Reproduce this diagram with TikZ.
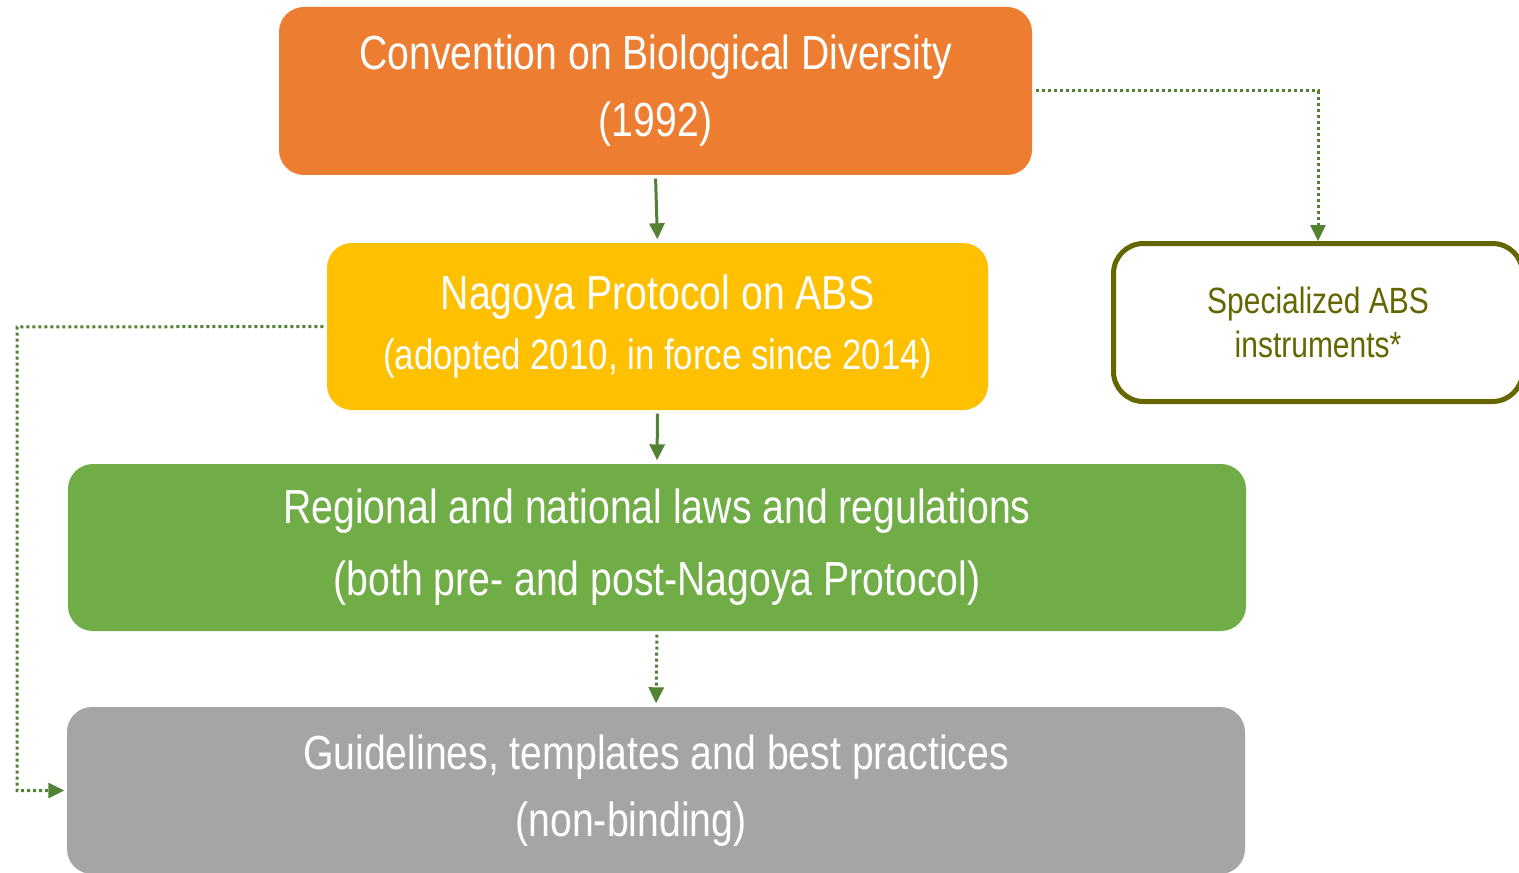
\documentclass[tikz,border=0pt]{standalone}
\usepackage{fontspec}
\setmainfont{Liberation Sans}[FakeStretch=0.82]
\usetikzlibrary{positioning}
\usetikzlibrary{arrows.meta}

\definecolor{cbdorange}{HTML}{ED7D31}
\definecolor{npyellow}{HTML}{FFC000}
\definecolor{lawgreen}{HTML}{70AD47}
\definecolor{guidegray}{HTML}{A5A5A5}
\definecolor{arrowgreen}{HTML}{548235}
\definecolor{specolive}{HTML}{666600}

\tikzset{
    level/.style={rounded corners=0.25cm, text=white, align=center, inner sep=0pt,
        font=\fontsize{13.6}{19}\selectfont},
    specbox/.style={draw=specolive, line width=0.05cm, fill=white, rounded corners=0.3cm,
        text=specolive, align=center, inner sep=0pt, font=\fontsize{10.4}{12.5}\selectfont},
    link/.style={draw=arrowgreen, line width=0.03cm, -{Triangle[width=0.15cm,length=0.16cm]}},
    dottedlink/.style={link, dash pattern=on 0.03cm off 0.03cm}
}

\begin{document}
\begin{tikzpicture}
    \clip (0,0) rectangle (15.19,-8.72);
    \fill[white] (0,0) rectangle (15.19,-8.72);
    % the four levels
    \node[level, fill=cbdorange, minimum width=7.53cm, minimum height=1.68cm] (cbd) at (6.555,-0.91)
        {Convention on Biological Diversity\\(1992)};
    \node[level, fill=npyellow, minimum width=6.61cm, minimum height=1.67cm,
        font=\fontsize{13.6}{17}\selectfont] (nagoya) at (6.575,-3.265)
        {Nagoya Protocol on ABS\\{\fontsize{12.1}{17}\selectfont(adopted 2010, in force since 2014)}};
    \node[level, fill=lawgreen, minimum width=11.78cm, minimum height=1.67cm,
        font=\fontsize{13.6}{20.5}\selectfont] (laws) at (6.57,-5.475)
        {Regional and national laws and regulations\\(both pre- and post-Nagoya Protocol)};
    \node[level, fill=guidegray, minimum width=11.78cm, minimum height=1.67cm] (guide) at (6.56,-7.905)
        {Guidelines, templates and best practices\\\hspace*{-0.5cm}(non-binding)};
    % side box
    \node[specbox, minimum width=4.09cm, minimum height=1.58cm] (spec) at (13.18,-3.225)
        {Specialized ABS\\instruments*};
    \coordinate (lbend) at (0.17,-3.27);
    % connectors
    \draw[link, shorten <=0.03cm, shorten >=0.03cm] (cbd.south) -- (nagoya.north);
    \draw[link, shorten <=0.03cm, shorten >=0.03cm] (nagoya.south) -- (laws.north);
    \draw[dottedlink, shorten <=0.03cm, shorten >=0.03cm] (laws.south) -- (guide.north);
    \draw[dottedlink, shorten <=0.03cm] (cbd.east) -| (spec.north);
    \draw[dottedlink, shorten <=0.03cm, shorten >=0.02cm] (nagoya.west) -- (lbend) |- (guide.west);
\end{tikzpicture}
\end{document}
